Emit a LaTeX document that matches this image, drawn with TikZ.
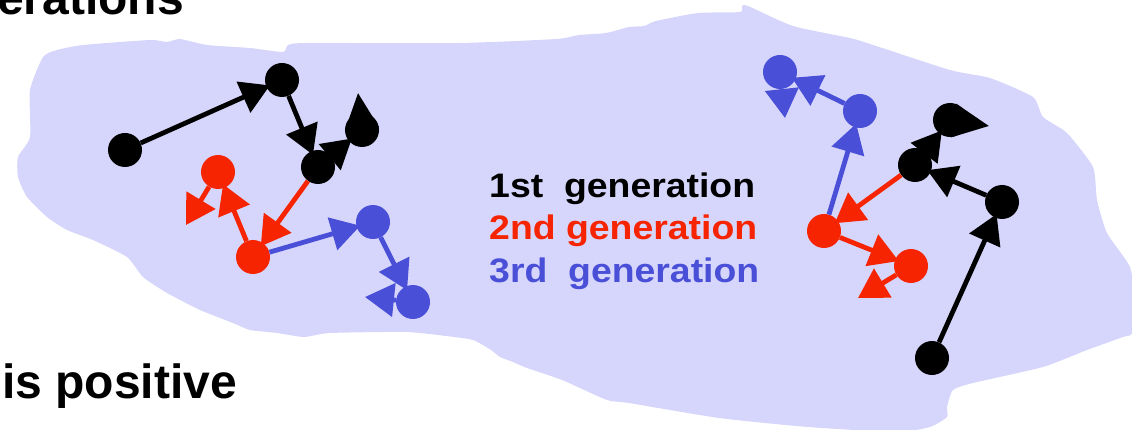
\documentclass[tikz,border=0pt]{standalone}
\usepackage{graphicx}
\usepackage{fontspec}
\setmainfont{Liberation Sans}
\usetikzlibrary{arrows.meta}
\definecolor{blobc}{RGB}{214,214,252}
\definecolor{redc}{RGB}{246,36,0}
\definecolor{bluec}{RGB}{74,79,215}
\begin{document}
\begin{tikzpicture}[x=1pt,y=-1pt,
  dot/.style={circle,inner sep=0pt,minimum size=34pt},
  kdot/.style={dot,fill=black},
  rdot/.style={dot,fill=redc},
  bdot/.style={dot,fill=bluec},
  con/.style={line width=4.8pt,-{Triangle[length=29pt,width=33pt]},shorten >=-4pt},
  kcon/.style={con,draw=black,fill=black},
  rcon/.style={con,draw=redc,fill=redc},
  bcon/.style={con,draw=bluec,fill=bluec},
  free/.style={shorten >=0pt},
  drop/.style={-{Triangle[length=36pt,width=33pt]}},
  lbl/.style={font=\bfseries\fontsize{34}{40}\selectfont,inner sep=0pt,anchor=base west},
  big/.style={font=\bfseries\fontsize{48}{56}\selectfont,inner sep=0pt,anchor=base west}
]
\useasboundingbox (0,0) rectangle (1132,430);
% blob
\fill[blobc] plot[smooth cycle, tension=0.35] coordinates {
 (43,57) (57,50) (83,45) (150,40) (167,42) (180,39) (207,45) (250,48) (283,52) (288,45)
 (307,43) (460,43) (556,39) (579,35) (606,33) (629,27) (644,26) (656,21) (698,13)
 (740,12) (742,6) (748,6) (793,26) (850,38) (867,43) (950,70) (990,78) (1033,97)
 (1043,117) (1067,133) (1093,167) (1097,200) (1107,233) (1130,267) (1134,300) (1132,333)
 (1123,337) (1087,350) (1043,367) (973,383) (953,390) (947,407) (947,417) (930,427)
 (897,432) (808,427) (719,418) (629,403) (607,400) (562,380) (527,368) (513,362)
 (500,357) (491,350) (473,340) (446,336) (406,332) (330,333) (304,337) (277,333)
 (250,330) (233,323) (200,310) (167,293) (143,277) (127,257) (93,240) (67,230)
 (47,217) (27,197) (18,177) (18,157) (30,137) (30,90)};
% texts
\node[big] (t4) at (-3,15) {erations};
\node[big] (t5) at (2,398) {is positive};
\node[lbl] (t1) at (489,198) {\scalebox{1.1}[1]{1st\ \ generation}};
\node[lbl,text=redc] (t2) at (489,240) {\scalebox{1.1}[1]{2nd generation}};
\node[lbl,text=bluec] (t3) at (489,283) {\scalebox{1.1}[1]{3rd\ \ generation}};
% left cluster
\node[kdot] (A) at (125,150) {};
\node[kdot] (B) at (282,80) {};
\node[kdot] (C) at (318,167) {};
\node[kdot] (D) at (362,130) {};
\node[rdot] (E) at (218,172) {};
\node[rdot] (F) at (253,257) {};
\node[bdot] (G) at (373,222) {};
\node[bdot] (H) at (413,302) {};
\coordinate (Dt) at (358,93);
\coordinate (Eo) at (186,225);
\coordinate (Ho) at (365,297);
% right cluster
\node[bdot] (I) at (780,72) {};
\node[bdot] (J) at (860,111) {};
\node[kdot] (K) at (950,120) {};
\node[kdot] (L) at (915,165) {};
\node[kdot] (M) at (1002,202) {};
\node[kdot] (N) at (932,358) {};
\node[rdot] (O) at (824,231) {};
\node[rdot] (P) at (911,266) {};
\coordinate (It) at (785,118);
\coordinate (Kt) at (989,126);
\coordinate (Po) at (858,298);
% left connectors
\draw[kcon] (A) -- (B);
\draw[kcon] (B) -- (C);
\draw[kcon] (C) -- (D);
\draw[kcon,free,drop] (D.center) -- (Dt);
\draw[rcon] (C) -- (F);
\draw[rcon] (F) -- (E);
\draw[rcon,free] (E) -- (Eo);
\draw[bcon] (F) -- (G);
\draw[bcon] (G) -- (H);
\draw[bcon,free] (H) -- (Ho);
% right connectors
\draw[kcon] (N) -- (M);
\draw[kcon] (M) -- (L);
\draw[kcon] (L) -- (K);
\draw[kcon,free,drop] (K.center) -- (Kt);
\draw[rcon] (L) -- (O);
\draw[rcon] (O) -- (P);
\draw[rcon,free] (P) -- (Po);
\draw[bcon] (O) -- (J);
\draw[bcon] (J) -- (I);
\draw[bcon,free] (I) -- (It);
\end{tikzpicture}
\end{document}
